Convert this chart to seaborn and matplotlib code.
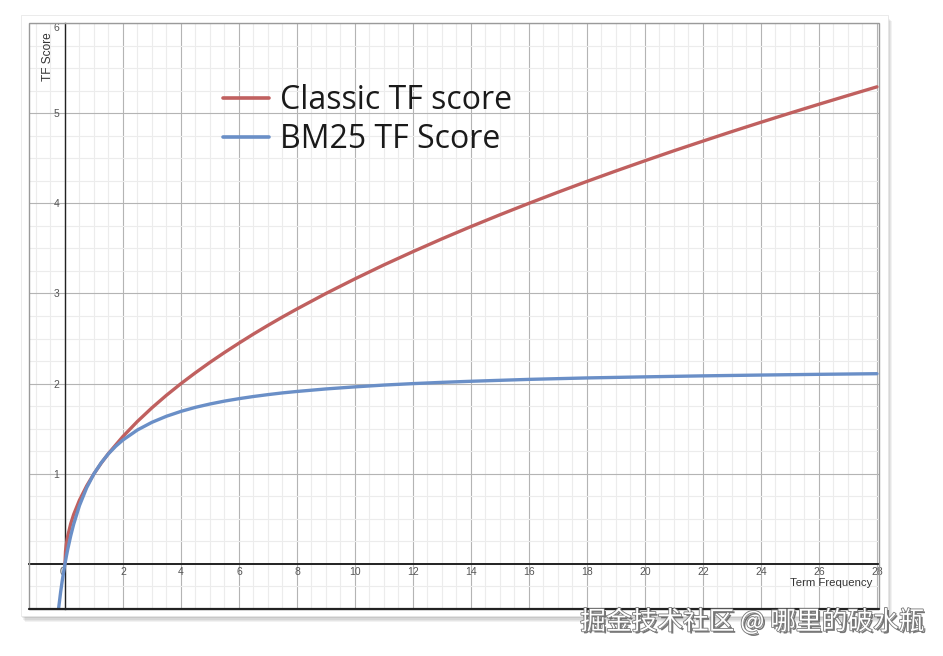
import numpy as np
import pandas as pd
import matplotlib
matplotlib.use("Agg")
import matplotlib.pyplot as plt
import matplotlib.patheffects as pe
from matplotlib.patches import Rectangle
from matplotlib.lines import Line2D
from matplotlib.ticker import MultipleLocator
import seaborn as sns

# ---- data ----
classic_tf = [0, 0.02, 0.05, 0.1, 0.2, 0.3, 0.5, 0.75, 1, 1.25, 1.5, 2, 2.5, 3, 3.5, 4, 4.5,
              5, 5.5, 6, 6.5, 7, 7.5, 8, 9, 10, 11, 12, 13, 14, 15, 16, 17, 18, 19, 20, 21, 22,
              23, 24, 25, 26, 27, 28]
classic_score = [0, 0.141, 0.224, 0.316, 0.447, 0.548, 0.707, 0.866, 1.0, 1.118, 1.225, 1.414,
                 1.581, 1.732, 1.871, 2.0, 2.121, 2.236, 2.345, 2.449, 2.550, 2.646, 2.739,
                 2.828, 3.0, 3.162, 3.317, 3.464, 3.606, 3.742, 3.873, 4.0, 4.123, 4.243,
                 4.359, 4.472, 4.583, 4.690, 4.796, 4.899, 5.0, 5.099, 5.196, 5.292]

bm25_tf = [-0.22, -0.15, -0.1, -0.05, 0, 0.05, 0.1, 0.2, 0.3, 0.5, 0.75, 1, 1.25, 1.5, 1.75,
           2, 2.5, 3, 3.5, 4, 4.5, 5, 5.5, 6, 6.5, 7, 7.5, 8, 9, 10, 11, 12, 13, 14, 16, 18, 20,
           22, 24, 26, 28]
bm25_score = [-0.496, -0.314, -0.200, -0.096, 0, 0.088, 0.169, 0.314, 0.440, 0.647, 0.846,
              1.0, 1.122, 1.222, 1.305, 1.375, 1.486, 1.571, 1.638, 1.692, 1.737, 1.774, 1.806,
              1.833, 1.857, 1.878, 1.897, 1.913, 1.941, 1.964, 1.984, 2.0, 2.014, 2.026, 2.047,
              2.063, 2.075, 2.086, 2.095, 2.103, 2.110]

series_names = ["Classic TF score", "BM25 TF Score"]
series_colors = ["#c0605f", "#6a8fc7"]
x_ticks = list(range(0, 29, 2))
y_ticks = [1, 2, 3, 4, 5, 6]
x_label = "Term Frequency"
y_label = "TF Score"
watermark = "掘金技术社区 @ 哪里的破水瓶"

df = pd.concat([
    pd.DataFrame({"tf": classic_tf, "score": classic_score, "series": series_names[0]}),
    pd.DataFrame({"tf": bm25_tf, "score": bm25_score, "series": series_names[1]}),
])

sns.set_style("white")
plt.rcParams["font.family"] = ["Liberation Sans", "DejaVu Sans"]

fig = plt.figure(figsize=(9.43, 6.56), dpi=100)
fig.patch.set_facecolor("white")

# card with soft shadow
card_l, card_b, card_w, card_h = 21 / 943, 1 - 616 / 656, 867 / 943, 601 / 656
for i, a in enumerate([0.05, 0.05, 0.06, 0.07, 0.08]):
    off = (5 - i) * 1.2
    fig.patches.append(Rectangle((card_l + off / 943 * 0.6, card_b - off / 656),
                                 card_w, card_h, transform=fig.transFigure,
                                 facecolor="black", alpha=a, edgecolor="none", zorder=0))
fig.patches.append(Rectangle((card_l, card_b), card_w, card_h, transform=fig.transFigure,
                             facecolor="white", edgecolor="#e8e8e8", lw=0.6, zorder=1))

ax = fig.add_axes([29 / 943, 1 - 609 / 656, 850 / 943, 586 / 656])
ax.set_facecolor("none")
ax.set_zorder(2)

sns.lineplot(data=df, x="tf", y="score", hue="series", palette=series_colors,
             hue_order=series_names, sort=False, estimator=None, lw=2.4, ax=ax,
             legend=False, zorder=5)

ax.set_xlim(-1.24, 28.07)
ax.set_ylim(-0.5, 6.0)

ax.set_xticks(x_ticks)
ax.set_yticks(y_ticks)
ax.xaxis.set_minor_locator(MultipleLocator(0.5))
ax.yaxis.set_minor_locator(MultipleLocator(0.25))
ax.grid(which="minor", color="#ececec", lw=0.8, zorder=0)
ax.grid(which="major", color="#b4b4b4", lw=0.8, zorder=0)
ax.set_axisbelow(True)

for s in ["top", "right"]:
    ax.spines[s].set_visible(False)
ax.spines["left"].set_position(("data", 0))
ax.spines["bottom"].set_position(("data", 0))
ax.spines["left"].set_color("#222222")
ax.spines["bottom"].set_color("#222222")
ax.spines["left"].set_linewidth(1.0)
ax.spines["bottom"].set_linewidth(1.4)

ax.tick_params(axis="both", which="both", length=0, labelsize=7.5, labelcolor="#555555")
ax.tick_params(axis="x", pad=2)
ax.tick_params(axis="y", pad=4)
ax.set_xticklabels([str(t) for t in x_ticks])
ax.set_yticklabels([str(t) for t in y_ticks])
for lbl in ax.get_xticklabels():
    if lbl.get_text() == "0":
        lbl.set_horizontalalignment("right")
for lbl in ax.get_yticklabels():
    if lbl.get_text() == "6":
        lbl.set_verticalalignment("top")

ax.set_xlabel("")
ax.set_ylabel("")
ax.text(0.992, 0.045, x_label, transform=ax.transAxes, ha="right", va="center",
        fontsize=8.2, color="#333333", zorder=6)
ax.text(0.022, 0.985, y_label, transform=ax.transAxes, ha="center", va="top",
        rotation=90, fontsize=8.6, color="#333333", zorder=6)

# frame
ax.add_patch(Rectangle((0, 0), 1, 1, transform=ax.transAxes, fill=False,
                       edgecolor="#9a9a9a", lw=1.0, zorder=7, clip_on=False))
ax.plot([0, 1], [0, 0], transform=ax.transAxes, color="#222222", lw=1.6,
        zorder=8, clip_on=False)

# legend
handles = [Line2D([], [], color=c, lw=2.6) for c in series_colors]
leg = ax.legend(handles, series_names, loc="upper left", bbox_to_anchor=(0.228, 0.896),
                frameon=False, handlelength=1.45, handletextpad=0.33,
                labelspacing=0.2, borderaxespad=0, borderpad=0,
                prop={"family": "Open Sans", "size": 23})
for t in leg.get_texts():
    t.set_color("#1a1a1a")

# watermark
fig.text(0.981, 0.052, watermark, ha="right", va="center", fontsize=18.5,
         family=["Noto Sans CJK SC", "DejaVu Sans"], color="white", zorder=10,
         path_effects=[pe.withSimplePatchShadow(offset=(1.5, -1.5), shadow_rgbFace="#555555", alpha=0.8),
                       pe.withStroke(linewidth=1.2, foreground="#777777")])

fig.savefig("out.png", dpi=100)
